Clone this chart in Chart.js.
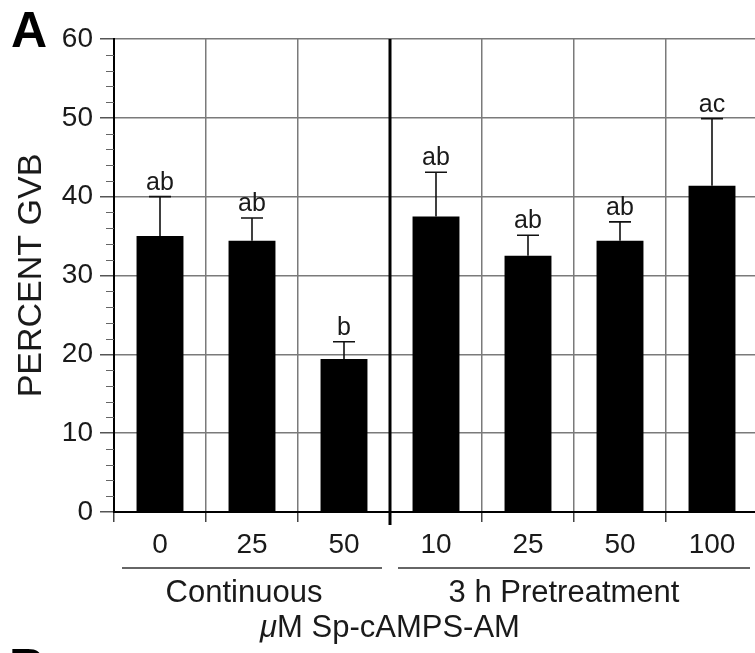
<!DOCTYPE html>
<html>
<head>
<meta charset="utf-8">
<script src="https://cdn.jsdelivr.net/npm/chart.js@4.4.1/dist/chart.umd.min.js"></script>
<style>
  html, body { margin: 0; padding: 0; background: #fff; overflow: hidden; }
  #wrap { width: 760px; height: 653px; }
</style>
</head>
<body>
<div id="wrap"><canvas id="gvb" width="760" height="653"></canvas></div>
<script>
// Sp-cAMPS-AM concentration (µM) for each bar
const doses = ['0', '25', '50', '10', '25', '50', '100'];
// Treatment groups: label, first and last bar index
const groupNames = ['Continuous', '3 h Pretreatment'];
const groupStart = [0, 3];
const groupEnd = [2, 6];
// Mean percent GVB and upper error (SEM)
const percentGVB = [35.0, 34.4, 19.4, 37.5, 32.5, 34.4, 41.4];
const errorUp = [5.0, 2.9, 2.2, 5.6, 2.6, 2.4, 8.5];
// Significance letters above each bar
const sigLetters = ['ab', 'ab', 'b', 'ab', 'ab', 'ab', 'ac'];
// Y axis
const yTicks = [0, 10, 20, 30, 40, 50, 60];
const yMinorStep = 2;

const FONT = "'Liberation Sans', Arial, Helvetica, sans-serif";
const TEXT = '#1a1a1a';
const GRID = '#7a7a7a';

const annotate = {
  id: 'annotate',
  afterDatasetsDraw(chart) {
    const { ctx, chartArea, scales: { x, y } } = chart;
    ctx.save();

    // minor ticks on the y axis
    ctx.strokeStyle = '#666';
    ctx.lineWidth = 1;
    for (let v = yTicks[0]; v <= yTicks[yTicks.length - 1]; v += yMinorStep) {
      if (v % 10 === 0) continue;
      const py = Math.round(y.getPixelForValue(v)) + 0.5;
      ctx.beginPath();
      ctx.moveTo(chartArea.left - 8, py);
      ctx.lineTo(chartArea.left, py);
      ctx.stroke();
    }

    // error bars
    ctx.strokeStyle = '#111';
    ctx.lineWidth = 1.6;
    percentGVB.forEach((m, i) => {
      const px = x.getPixelForValue(i);
      const y0 = y.getPixelForValue(m);
      const y1 = y.getPixelForValue(m + errorUp[i]);
      ctx.beginPath();
      ctx.moveTo(px, y0);
      ctx.lineTo(px, y1);
      ctx.moveTo(px - 11, y1);
      ctx.lineTo(px + 11, y1);
      ctx.stroke();
    });

    // significance letters
    ctx.fillStyle = TEXT;
    ctx.font = '25px ' + FONT;
    ctx.textAlign = 'center';
    ctx.textBaseline = 'alphabetic';
    sigLetters.forEach((s, i) => {
      const px = x.getPixelForValue(i);
      const y1 = y.getPixelForValue(percentGVB[i] + errorUp[i]);
      ctx.fillText(s, px, y1 - 7);
    });

    // divider between the two treatment groups
    const divX = (x.getPixelForValue(2) + x.getPixelForValue(3)) / 2;
    ctx.strokeStyle = '#000';
    ctx.lineWidth = 3;
    ctx.beginPath();
    ctx.moveTo(divX, chartArea.top);
    ctx.lineTo(divX, chartArea.bottom + 13);
    ctx.stroke();

    // group underlines and names
    const half = (x.getPixelForValue(1) - x.getPixelForValue(0)) / 2;
    ctx.strokeStyle = '#333';
    ctx.lineWidth = 1.6;
    ctx.font = '31px ' + FONT;
    ctx.textBaseline = 'middle';
    groupNames.forEach((g, k) => {
      const a = x.getPixelForValue(groupStart[k]) - half + 8;
      const b = x.getPixelForValue(groupEnd[k]) + half - 8;
      ctx.beginPath();
      ctx.moveTo(a, chartArea.bottom + 56);
      ctx.lineTo(b, chartArea.bottom + 56);
      ctx.stroke();
      const c = k === 0 ? (a + b) / 2 - 8 : (a + b) / 2 - 10;
      ctx.fillText(g, c, chartArea.bottom + 81);
    });

    // axis title with italic mu
    const yT = chartArea.bottom + 116;
    ctx.textAlign = 'left';
    ctx.font = 'italic 31px ' + FONT;
    const mu = '\u03BC';
    const wMu = ctx.measureText(mu).width;
    ctx.font = '31px ' + FONT;
    const rest = 'M Sp-cAMPS-AM';
    const wRest = ctx.measureText(rest).width;
    const startX = divX - (wMu + wRest) / 2;
    ctx.font = 'italic 31px ' + FONT;
    ctx.fillText(mu, startX, yT);
    ctx.font = '31px ' + FONT;
    ctx.fillText(rest, startX + wMu, yT);

    // panel letters
    ctx.fillStyle = '#000';
    ctx.font = 'bold 50px ' + FONT;
    ctx.textBaseline = 'alphabetic';
    ctx.fillText('A', 11, 47);
    ctx.fillText('B', 9, 684);

    ctx.restore();
  }
};

new Chart(document.getElementById('gvb'), {
  type: 'bar',
  data: {
    labels: doses,
    datasets: [{
      data: percentGVB,
      backgroundColor: '#000',
      borderWidth: 0,
      barPercentage: 0.51,
      categoryPercentage: 1.0
    }]
  },
  options: {
    responsive: false,
    animation: false,
    layout: { padding: { top: 39, right: 2, left: 0, bottom: 0 } },
    plugins: { legend: { display: false }, tooltip: { enabled: false } },
    scales: {
      x: {
        offset: true,
        grid: { offset: true, color: GRID, lineWidth: 1.5, tickLength: 10, tickColor: '#444' },
        border: { color: '#000', width: 2 },
        ticks: { color: TEXT, font: { family: FONT, size: 28 }, padding: 6, maxRotation: 0 },
        afterFit(s) { s.height = 141; }
      },
      y: {
        min: 0,
        max: 60,
        afterBuildTicks(s) { s.ticks = yTicks.map(v => ({ value: v })); },
        grid: { color: GRID, lineWidth: 1.5, tickLength: 14, tickColor: '#555' },
        border: { color: '#000', width: 2 },
        ticks: { color: TEXT, font: { family: FONT, size: 28 }, padding: 7 },
        title: {
          display: true,
          text: 'PERCENT GVB',
          color: TEXT,
          font: { family: FONT, size: 34 },
          padding: { top: 11, bottom: 0 }
        },
        afterFit(s) { s.width = 114; }
      }
    }
  },
  plugins: [annotate]
});
</script>
</body>
</html>
